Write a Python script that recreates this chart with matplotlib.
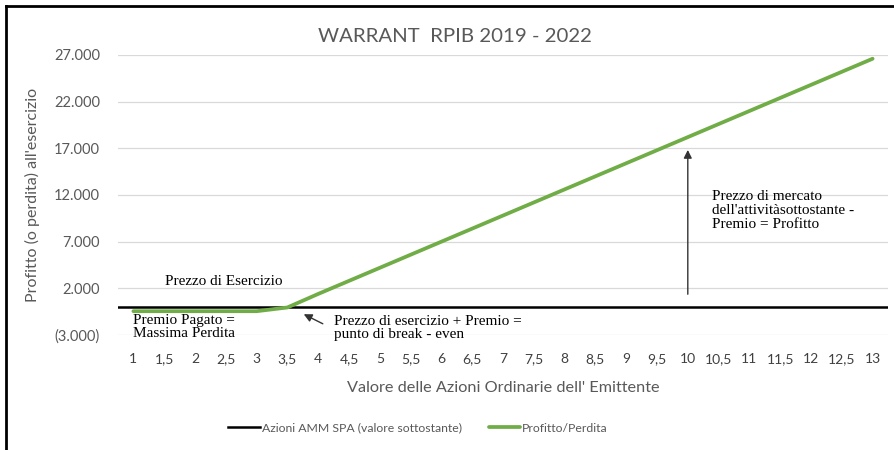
import numpy as np
import matplotlib
matplotlib.use('Agg')
import matplotlib.pyplot as plt
from matplotlib.lines import Line2D
from matplotlib.ticker import FuncFormatter

# Dati del grafico
prezzi = ['1', '1,5', '2', '2,5', '3', '3,5', '4', '4,5', '5', '5,5', '6', '6,5', '7',
          '7,5', '8', '8,5', '9', '9,5', '10', '10,5', '11', '11,5', '12', '12,5', '13']
profitto = [-450, -450, -450, -450, -450, -50, 1400, 2800, 4200, 5600, 7000, 8400, 9800,
            11200, 12600, 14000, 15400, 16800, 18200, 19600, 21000, 22400, 23800, 25200, 26600]
azioni = [0] * len(prezzi)
y_ticks = [-3000, 2000, 7000, 12000, 17000, 22000, 27000]

grigio = '#595959'
verde = '#70AD47'
serif = 'Liberation Serif'
sans = 'Lato'

fig = plt.figure(figsize=(8.95, 4.5), dpi=100)
ax = fig.add_axes([118 / 895, 115 / 450, 770 / 895, 280 / 450])

x = np.arange(len(prezzi))
ax.axhline(0, color='black', lw=1.8, zorder=3, label='Azioni AMM SPA (valore sottostante)')
ax.plot(x, profitto, color=verde, lw=2.7, solid_capstyle='round', zorder=4, label='Profitto/Perdita')

ax.set_xlim(-0.5, len(prezzi) - 0.5)
ax.set_ylim(-3000, 27000)
ax.set_yticks(y_ticks)
ax.set_xticks(x)
ax.set_xticklabels(prezzi)


def fmt_it(v, pos):
    s = '{:,.0f}'.format(abs(v)).replace(',', '.')
    return '(' + s + ')' if v < 0 else s


ax.yaxis.set_major_formatter(FuncFormatter(fmt_it))
ax.grid(axis='y', color='#D9D9D9', lw=0.9)
ax.set_axisbelow(True)
for s in ax.spines.values():
    s.set_visible(False)
ax.tick_params(axis='both', length=0, colors=grigio)
ax.tick_params(axis='y', pad=13, labelsize=10.5)
ax.tick_params(axis='x', pad=13, colors='#404040', labelsize=10)
for lab in ax.get_xticklabels() + ax.get_yticklabels():
    lab.set_fontfamily(sans)

ax.set_ylabel("Profitto (o perdita) all'esercizio", color=grigio, fontsize=11.5, family=sans)
ax.yaxis.set_label_coords(-0.101, 0.5)
ax.set_xlabel("Valore delle Azioni Ordinarie dell' Emittente", color=grigio, fontsize=11.7, family=sans)
ax.xaxis.set_label_coords(0.5, -0.164)

fig.text(455 / 895, 1 - 37 / 450, 'WARRANT  RPIB 2019 - 2022', ha='center', va='center',
         color=grigio, fontsize=14.7, family=sans)

# Annotazioni
ax.text(1.04, 2780, 'Prezzo di Esercizio', fontsize=11, family=serif, va='center')
ax.text(0, -2140, 'Premio Pagato =\nMassima Perdita', fontsize=11, family=serif,
        va='center', linespacing=1.05)
ax.text(6.5, -2250, 'Prezzo di esercizio + Premio =\npunto di break - even', fontsize=11,
        family=serif, va='center', linespacing=1.05)
ax.annotate('', xy=(5.45, -640), xytext=(6.23, -1930),
            arrowprops=dict(arrowstyle='-|>', color='#333333', lw=1, mutation_scale=12))
ax.annotate('', xy=(18, 17130), xytext=(18, 1070),
            arrowprops=dict(arrowstyle='-|>', color='#333333', lw=1, mutation_scale=12))
ax.text(18.77, 10390, "Prezzo di mercato\ndell'attivitàsottostante -\nPremio = Profitto",
        fontsize=11, family=serif, va='center', linespacing=1.1)

leg = fig.legend(loc='center', bbox_to_anchor=(418 / 895, 22 / 450), ncol=2, frameon=False,
                 prop={'family': sans, 'size': 8.8}, handlelength=2.6, handletextpad=0.15,
                 columnspacing=2.2)
for t in leg.get_texts():
    t.set_color(grigio)

# Cornice
fig.add_artist(Line2D([6 / 895, 6 / 895], [0, 1 - 6 / 450], color='black', lw=2, transform=fig.transFigure))
fig.add_artist(Line2D([6 / 895, 1], [1 - 6 / 450, 1 - 6 / 450], color='black', lw=2, transform=fig.transFigure))

fig.savefig('out.png', dpi=100)
